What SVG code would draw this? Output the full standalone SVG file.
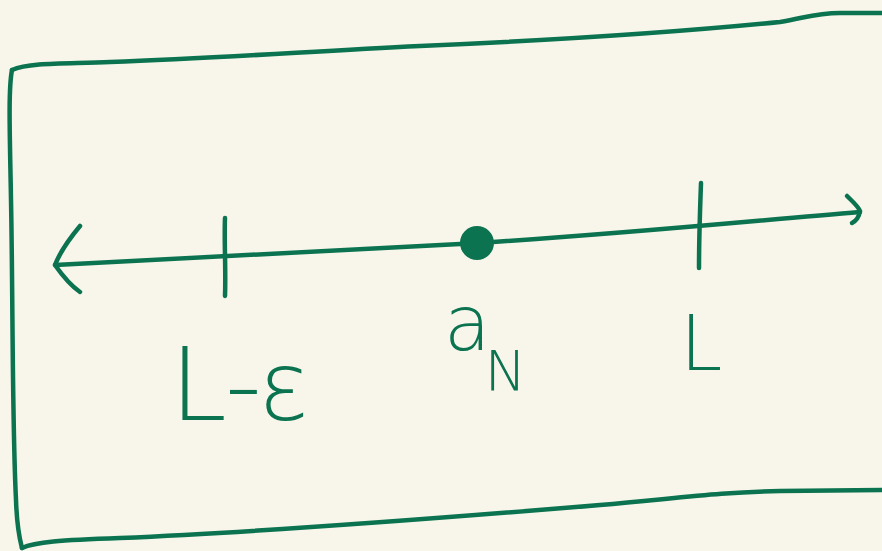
<svg xmlns="http://www.w3.org/2000/svg" width="882" height="551" viewBox="0 0 882 551">
<style>
.ink{fill:none;stroke:#0b7350;stroke-width:4.5;stroke-linecap:round;stroke-linejoin:round}
.lbl{fill:#0b7350;font-family:"DejaVu Sans","Liberation Sans",sans-serif;font-weight:200}
</style>
<rect width="882" height="551" fill="#f8f6eb"/>
<g id="frame">
<path class="ink" d="M12,70 C30,62 70,64 110,62 C220,58 300,52 420,46 C560,40 680,32 780,22 C805,18 815,13 840,13 L882,13"/>
<path class="ink" d="M12,70 C8,90 10,140 11,200 C13,300 12,420 16,500 C17,530 20,540 22,548"/>
<path class="ink" d="M22,548 C35,542 60,540 120,538 C260,532 420,520 600,505 C680,498 720,492 780,491 L882,490"/>
</g>
<g id="connectors">
<path class="ink" d="M55,265 C160,260 300,252 460,244 C600,236 740,222 860,212"/>
<path class="ink" d="M80,226 C70,238 60,252 55,265 C62,275 70,285 80,292"/>
<path class="ink" d="M847,196 C852,201 858,206 860,211 C859,217 856,221 852,223"/>
</g>
<g id="tick-left"><path class="ink" d="M225,218 C224,240 226,270 225,296"/></g>
<g id="tick-right"><path class="ink" d="M701,183 C700,210 699,240 699,268"/></g>
<g id="point-aN"><circle cx="477" cy="243" r="17" fill="#0b7350"/></g>
<g id="label-L-eps"><text class="lbl" x="170" y="420" font-size="102">L-<tspan font-size="96" dx="-4">ε</tspan></text></g>
<g id="label-aN"><text class="lbl" x="444" y="350" font-size="76">a<tspan font-size="56" dx="-6" dy="40">N</tspan></text></g>
<g id="label-L"><text class="lbl" x="680" y="370" font-size="76">L</text></g>
</svg>
